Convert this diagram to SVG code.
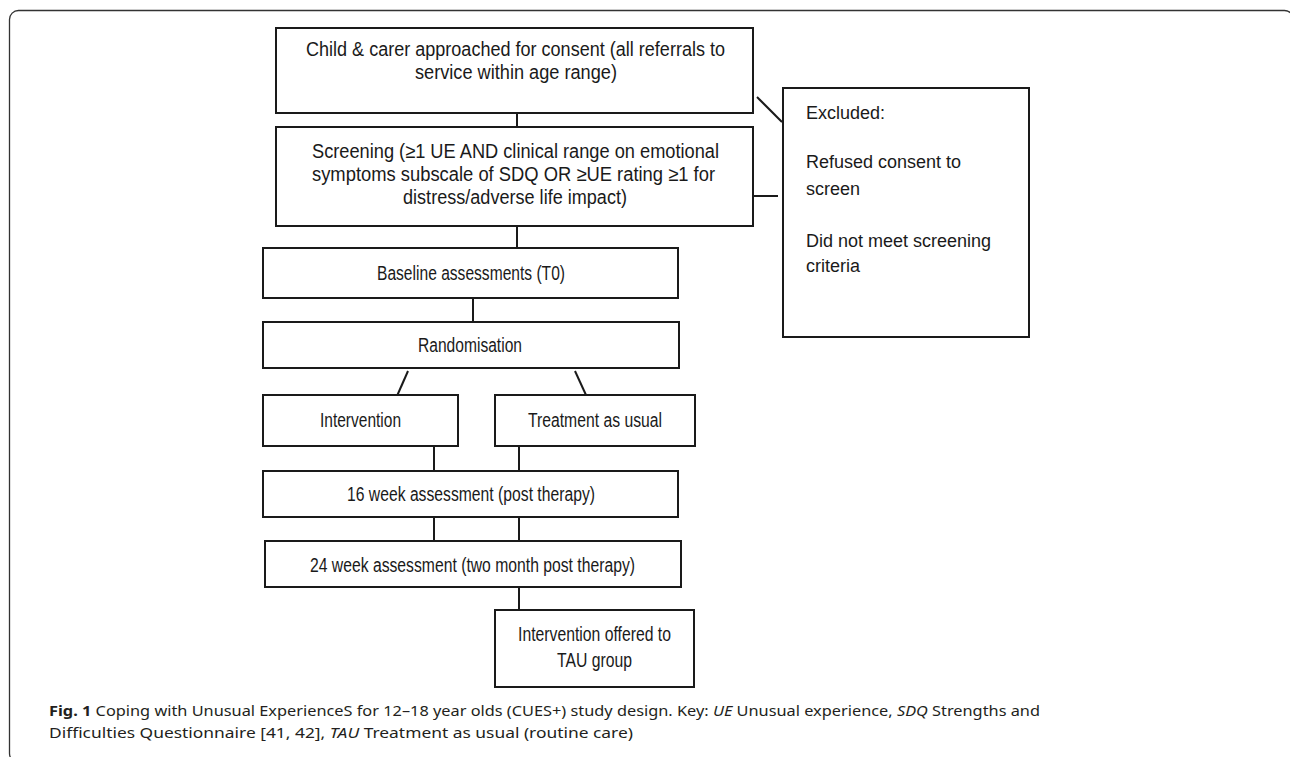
<svg xmlns="http://www.w3.org/2000/svg" width="1290" height="757" viewBox="0 0 1290 757">
<style>
.box{fill:#fff;stroke:#1a1a1a;stroke-width:2}
.t{font-family:"Liberation Sans",Arial,sans-serif;font-size:20px;fill:#1a1a1a}
.e{font-family:"Liberation Sans",Arial,sans-serif;font-size:18px;fill:#1a1a1a}
.c{stroke:#1a1a1a;stroke-width:2;fill:none}
.cap{font-family:"Noto Sans","Open Sans",sans-serif;font-size:15px;fill:#231f20}
</style>
<rect x="9.5" y="10.5" width="1284" height="752" rx="9" fill="none" stroke="#333" stroke-width="1.3"/>
<g id="connectors">
<line class="c" x1="517" y1="113" x2="517" y2="127"/>
<line class="c" x1="517" y1="226" x2="517" y2="248"/>
<line class="c" x1="473" y1="298" x2="473" y2="322"/>
<line class="c" x1="408" y1="371" x2="397" y2="396"/>
<line class="c" x1="575" y1="371" x2="586" y2="395"/>
<line class="c" x1="434" y1="446" x2="434" y2="471"/>
<line class="c" x1="519" y1="446" x2="519" y2="471"/>
<line class="c" x1="434" y1="517" x2="434" y2="541"/>
<line class="c" x1="519" y1="517" x2="519" y2="541"/>
<line class="c" x1="519" y1="587" x2="519" y2="610"/>
<line class="c" x1="757" y1="97" x2="782" y2="122"/>
<line class="c" x1="753" y1="196" x2="778" y2="196"/>
</g>
<g id="consent">
<rect class="box" x="276" y="28" width="477" height="85"/>
<text class="t" x="306" y="56" textLength="419" lengthAdjust="spacingAndGlyphs">Child &amp; carer approached for consent (all referrals to</text>
<text class="t" x="415" y="79" textLength="202" lengthAdjust="spacingAndGlyphs">service within age range)</text>
</g>
<g id="screening">
<rect class="box" x="276" y="127" width="477" height="99"/>
<text class="t" x="312" y="158" textLength="407" lengthAdjust="spacingAndGlyphs">Screening (≥1 UE AND clinical range on emotional</text>
<text class="t" x="312" y="181" textLength="403" lengthAdjust="spacingAndGlyphs">symptoms subscale of SDQ OR ≥UE rating ≥1 for</text>
<text class="t" x="403" y="204" textLength="224" lengthAdjust="spacingAndGlyphs">distress/adverse life impact)</text>
</g>
<g id="excluded">
<rect class="box" x="783" y="88" width="246" height="249"/>
<text class="e" x="806" y="119">Excluded:</text>
<text class="e" x="806" y="168">Refused consent to</text>
<text class="e" x="806" y="195">screen</text>
<text class="e" x="806" y="247">Did not meet screening</text>
<text class="e" x="806" y="272">criteria</text>
</g>
<g id="baseline">
<rect class="box" x="263" y="248" width="415" height="50"/>
<text class="t" x="377" y="280" textLength="188" lengthAdjust="spacingAndGlyphs">Baseline assessments (T0)</text>
</g>
<g id="randomisation">
<rect class="box" x="263" y="322" width="416" height="46"/>
<text class="t" x="418" y="352" textLength="104" lengthAdjust="spacingAndGlyphs">Randomisation</text>
</g>
<g id="intervention">
<rect class="box" x="263" y="395" width="195" height="51"/>
<text class="t" x="320" y="427" textLength="81" lengthAdjust="spacingAndGlyphs">Intervention</text>
</g>
<g id="tau">
<rect class="box" x="495" y="395" width="200" height="51"/>
<text class="t" x="528" y="427" textLength="134" lengthAdjust="spacingAndGlyphs">Treatment as usual</text>
</g>
<g id="week16">
<rect class="box" x="263" y="471" width="415" height="46"/>
<text class="t" x="347" y="501" textLength="248" lengthAdjust="spacingAndGlyphs">16 week assessment (post therapy)</text>
</g>
<g id="week24">
<rect class="box" x="265" y="541" width="416" height="46"/>
<text class="t" x="310" y="572" textLength="325" lengthAdjust="spacingAndGlyphs">24 week assessment (two month post therapy)</text>
</g>
<g id="offered">
<rect class="box" x="495" y="610" width="199" height="77"/>
<text class="t" x="518" y="641" textLength="153" lengthAdjust="spacingAndGlyphs">Intervention offered to</text>
<text class="t" x="557" y="667" textLength="75" lengthAdjust="spacingAndGlyphs">TAU group</text>
</g>
<g id="caption">
<text class="cap" x="49" y="716" textLength="991" lengthAdjust="spacingAndGlyphs"><tspan font-weight="bold">Fig. 1</tspan> Coping with Unusual ExperienceS for 12–18 year olds (CUES+) study design. Key: <tspan font-style="italic">UE</tspan> Unusual experience, <tspan font-style="italic">SDQ</tspan> Strengths and</text>
<text class="cap" x="49" y="738" textLength="584" lengthAdjust="spacingAndGlyphs">Difficulties Questionnaire [41, 42], <tspan font-style="italic">TAU</tspan> Treatment as usual (routine care)</text>
</g>
</svg>
